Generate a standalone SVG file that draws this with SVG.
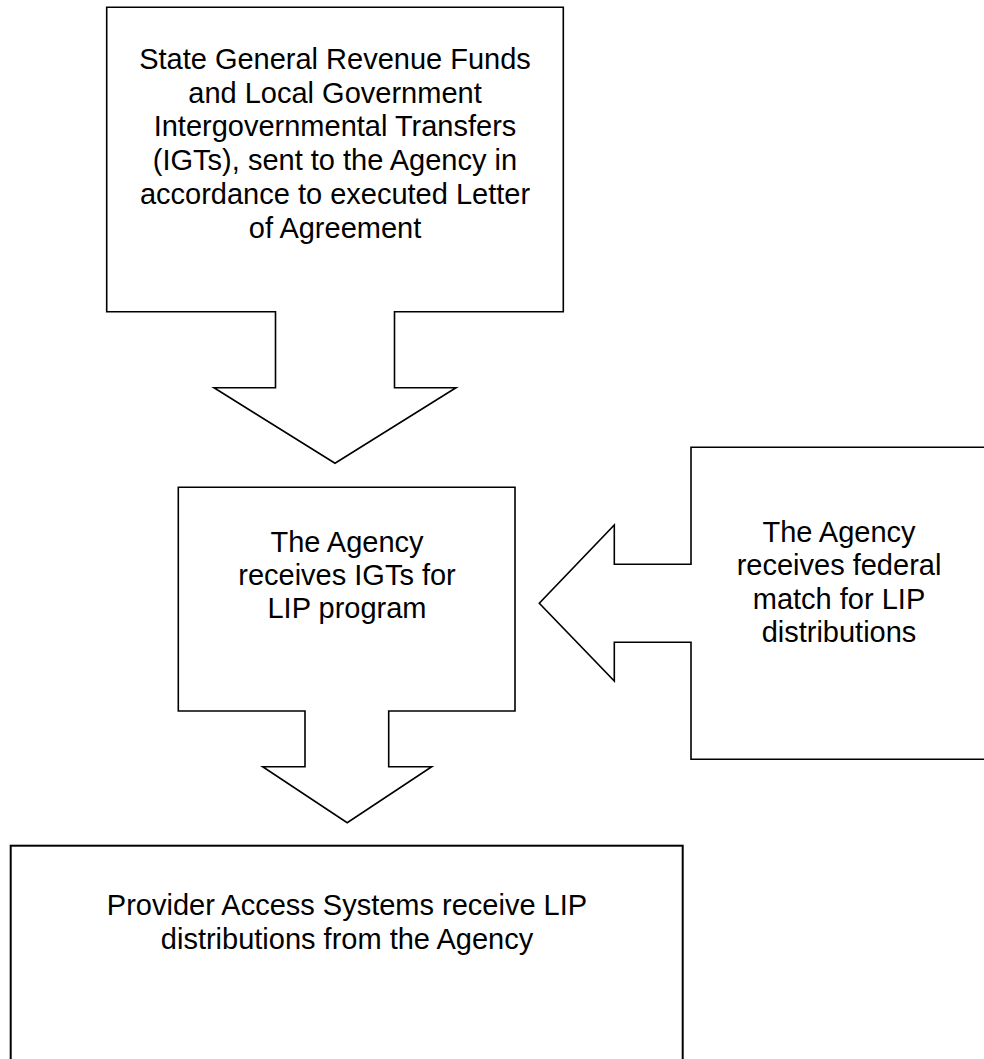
<svg xmlns="http://www.w3.org/2000/svg" width="984" height="1059" viewBox="0 0 984 1059">
<style>
.shape{fill:#fff;stroke:#000;stroke-width:1.6;stroke-linejoin:miter}
.box{fill:#fff;stroke:#000;stroke-width:2}
.t{font-family:"Liberation Sans",Arial,sans-serif;font-size:29px;fill:#000;text-anchor:middle}
</style>
<rect width="984" height="1059" fill="#fff"/>
<g id="connectors"></g>
<g id="node-state-funds">
<path class="shape" d="M106.7,7.3 H563.3 V311.7 H394.5 V387.7 H456 L335,463.3 L214,387.7 H275.5 V311.7 H106.7 Z"/>
<text class="t" x="335" y="69">State General Revenue Funds</text>
<text class="t" x="335" y="102.7">and Local Government</text>
<text class="t" x="335" y="136.4">Intergovernmental Transfers</text>
<text class="t" x="335" y="170.1">(IGTs), sent to the Agency in</text>
<text class="t" x="335" y="203.8">accordance to executed Letter</text>
<text class="t" x="335" y="237.5">of Agreement</text>
</g>
<g id="node-agency-igts">
<path class="shape" d="M178.3,487.3 H515 V711 H388.7 V766.7 H431.7 L347.2,822.7 L262.7,766.7 H305 V711 H178.3 Z"/>
<text class="t" x="347" y="551.7">The Agency</text>
<text class="t" x="347" y="584.7">receives IGTs for</text>
<text class="t" x="347" y="617.7">LIP program</text>
</g>
<g id="node-federal-match">
<path class="shape" d="M691,447.3 H990 V759.3 H691 V642.3 H614.3 V681 L539.3,603.3 L614.3,525 V564.3 H691 Z"/>
<text class="t" x="839" y="541.7">The Agency</text>
<text class="t" x="839" y="575.2">receives federal</text>
<text class="t" x="839" y="608.7">match for LIP</text>
<text class="t" x="839" y="642.2">distributions</text>
</g>
<g id="node-provider">
<rect class="box" x="10.7" y="845.7" width="672" height="230"/>
<text class="t" x="347" y="915">Provider Access Systems receive LIP</text>
<text class="t" x="347" y="949">distributions from the Agency</text>
</g>
</svg>
